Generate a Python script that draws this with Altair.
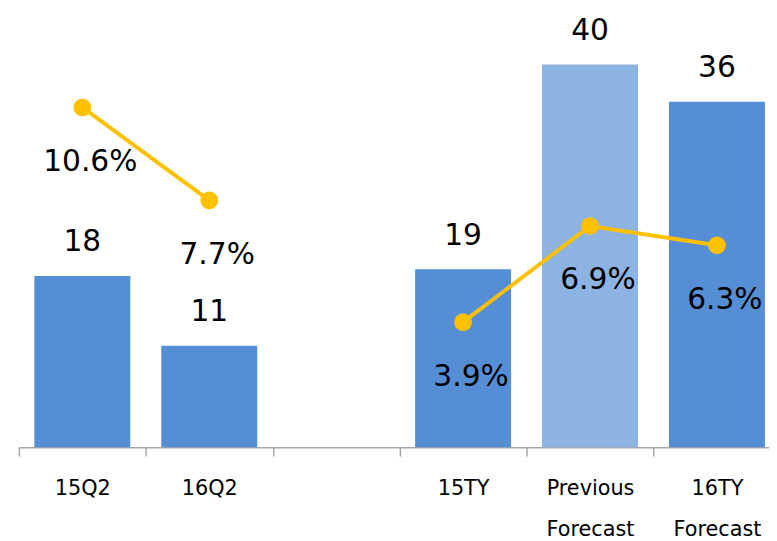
import altair as alt
import pandas as pd
import json

# slots on the category axis (the third one is an empty gap)
categories = ["15Q2", "16Q2", " ", "15TY", "Previous\nForecast", "16TY\nForecast"]

# bars: operating profit
bar_cats = ["15Q2", "16Q2", "15TY", "Previous\nForecast", "16TY\nForecast"]
profit = [17.9, 10.6, 18.6, 40.0, 36.1]
bar_kind = ["actual", "actual", "actual", "previous", "actual"]

# line: operating margin
margin = [0.106, 0.077, 0.039, 0.069, 0.063]
line_group = ["Q2", "Q2", "TY", "TY", "TY"]

# slot centre of each category (index in the slot list + half a slot)
slot_pos = [categories.index(c) + 0.5 for c in bar_cats]

bars_df = pd.DataFrame({"cat": bar_cats, "pos": slot_pos, "profit": profit, "kind": bar_kind})
line_df = pd.DataFrame({"cat": bar_cats, "pos": slot_pos, "margin": margin, "grp": line_group})

FONT = "DejaVu Sans"
VIEW_W = 758
SLOT_PX = 128.25
visible_slots = VIEW_W / SLOT_PX

label_expr = "split(" + json.dumps(categories) + "[datum.value], '\\n')"

x_enc = alt.X(
    "pos:Q",
    scale=alt.Scale(domain=[0, visible_slots], nice=False, zero=True, padding=0),
    axis=alt.Axis(
        title=None,
        values=list(range(len(categories))),
        labelExpr=label_expr,
        labelOffset=SLOT_PX / 2,
        labelAngle=0,
        labelFont=FONT,
        labelFontSize=21,
        labelColor="#000000",
        labelLineHeight=41,
        labelPadding=22,
        labelOverlap=False,
        labelFlush=False,
        labelBound=False,
        labelLimit=0,
        tickSize=9,
        tickColor="#A6A6A6",
        tickWidth=1.5,
        domainColor="#A6A6A6",
        domainWidth=1.5,
        grid=False,
    ),
)

y_left = alt.Y("profit:Q", scale=alt.Scale(domain=[0, 45], nice=False, zero=True, padding=0), axis=None)
y_right = alt.Y("margin:Q", scale=alt.Scale(domain=[0, 0.1343], nice=False, zero=True, padding=0), axis=None)

bars = alt.Chart(bars_df).mark_bar(width=97).encode(
    x=x_enc,
    y=y_left,
    color=alt.Color(
        "kind:N",
        scale=alt.Scale(domain=["actual", "previous"], range=["#558ED5", "#8DB3E2"]),
        legend=None,
    ),
)

bar_labels = alt.Chart(bars_df).mark_text(
    dy=-34, fontSize=30, font=FONT, color="#000000", baseline="middle"
).encode(x=x_enc, y=y_left, text=alt.Text("profit:Q", format=".0f"))

line = alt.Chart(line_df).mark_line(color="#FFC000", strokeWidth=4).encode(
    x=x_enc, y=y_right, detail="grp:N"
)

points = alt.Chart(line_df).mark_circle(size=320, color="#FFC000", opacity=1).encode(
    x=x_enc, y=y_right
)

pct_labels = alt.Chart(line_df).mark_text(
    dx=8, dy=55, fontSize=30, font=FONT, color="#000000", baseline="middle"
).encode(x=x_enc, y=y_right, text=alt.Text("margin:Q", format=".1%"))

chart = (
    alt.layer(bars, bar_labels, line, points, pct_labels)
    .resolve_scale(y="independent")
    .properties(
        width=VIEW_W,
        height=435,
        background="white",
        autosize=alt.AutoSizeParams(type="none"),
        padding={"left": 11, "top": 6, "right": 0, "bottom": 92},
    )
    .configure_view(stroke="transparent", strokeWidth=0)
)

chart.save("out.html", embed_options={"renderer": "svg", "actions": False})
